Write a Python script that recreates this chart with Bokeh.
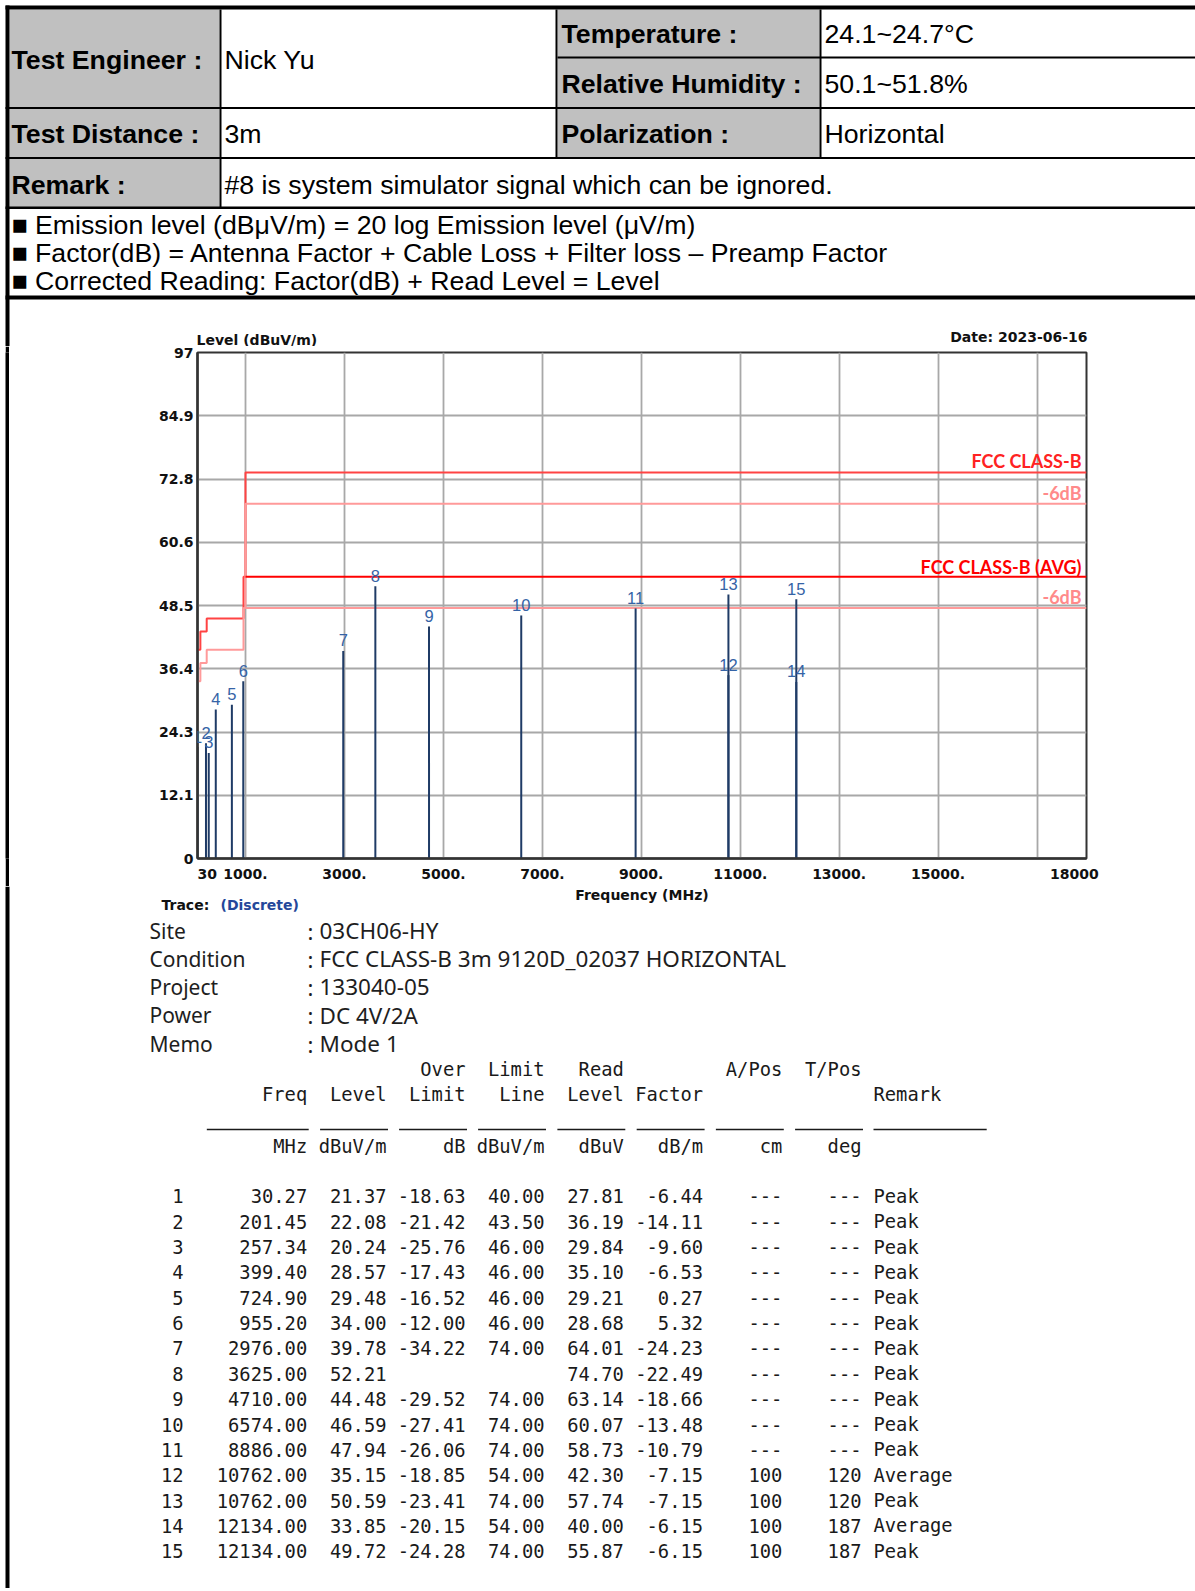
from bokeh.plotting import figure
from bokeh.models import Range1d, FixedTicker, Label, LabelSet, ColumnDataSource, Spacer
from bokeh.layouts import column, row
from bokeh.core.properties import value
from bokeh.embed import file_html
from bokeh.resources import INLINE

# ---------------- data ----------------
marker_no = [str(i) for i in range(1, 16)]
freq_mhz = [30.27, 201.45, 257.34, 399.40, 724.90, 955.20, 2976.00, 3625.00,
            4710.00, 6574.00, 8886.00, 10762.00, 10762.00, 12134.00, 12134.00]
level_dbuv = [21.37, 22.08, 20.24, 28.57, 29.48, 34.00, 39.78, 52.21,
              44.48, 46.59, 47.94, 35.15, 50.59, 33.85, 49.72]
over_limit = [-18.63, -21.42, -25.76, -17.43, -16.52, -12.00, -34.22, None,
              -29.52, -27.41, -26.06, -18.85, -23.41, -20.15, -24.28]
limit_line = [40.00, 43.50, 46.00, 46.00, 46.00, 46.00, 74.00, None,
              74.00, 74.00, 74.00, 54.00, 74.00, 54.00, 74.00]
read_level = [27.81, 36.19, 29.84, 35.10, 29.21, 28.68, 64.01, 74.70,
              63.14, 60.07, 58.73, 42.30, 57.74, 40.00, 55.87]
factor_db = [-6.44, -14.11, -9.60, -6.53, 0.27, 5.32, -24.23, -22.49,
             -18.66, -13.48, -10.79, -7.15, -7.15, -6.15, -6.15]
a_pos = ["---"] * 11 + ["100", "100", "100", "100"]
t_pos = ["---"] * 11 + ["120", "120", "187", "187"]
remark = ["Peak"] * 11 + ["Average", "Peak", "Average", "Peak"]

limit_freq = [30, 88, 216, 960, 1000, 18000]
limit_peak = [40, 43.5, 46, 54, 74, 74]
avg_freq = [1000, 18000]
avg_limit = [54, 54]
margin_db = 6

NB = "\u00a0"
x_grid_vals = [1000, 3000, 5000, 7000, 9000, 11000, 13000, 15000, 17000]
x_tick_vals = [30, 1000, 3000, 5000, 7000, 9000, 11000, 13000, 15000, 18000]
x_tick_text = [NB * 4 + "30", "1000.", "3000.", "5000.", "7000.", "9000.", "11000.",
               "13000.", "15000.", "18000" + NB * 5]
x_start, x_end = 30, 18000
y_tick_vals = [0, 12.125, 24.25, 36.375, 48.5, 60.625, 72.75, 84.875, 97]
y_tick_text = ["0", "12.1", "24.3", "36.4", "48.5", "60.6", "72.8", "84.9", "97"]

hdr_labels = ["Test Engineer :", "Temperature :", "Relative Humidity :",
              "Test Distance :", "Polarization :", "Remark :"]
hdr_values = ["Nick Yu", "24.1~24.7°C", "50.1~51.8%", "3m", "Horizontal",
              "#8 is system simulator signal which can be ignored."]
bullets = ["■ Emission level (dBμV/m) = 20 log Emission level (μV/m)",
           "■ Factor(dB) = Antenna Factor + Cable Loss + Filter loss – Preamp Factor",
           "■ Corrected Reading: Factor(dB) + Read Level = Level"]
chart_title = "Level (dBuV/m)"
chart_date = "Date: 2023-06-16"
x_title = "Frequency (MHz)"
info_keys = ["Site", "Condition", "Project", "Power", "Memo"]
info_vals = ["03CH06-HY", "FCC CLASS-B 3m 9120D_02037 HORIZONTAL", "133040-05",
             "DC 4V/2A", "Mode 1"]
col_head1 = ["", "", "", "Over", "Limit", "Read", "", "A/Pos", "T/Pos"]
col_head2 = ["", "Freq", "Level", "Limit", "Line", "Level", "Factor", "", ""]
col_units = ["", "MHz", "dBuV/m", "dB", "dBuV/m", "dBuV", "dB/m", "cm", "deg"]

PAGE_W = 1195
TOP_H, CHART_H, BOT_H = 346, 540, 702
ARIAL = value("Liberation Sans")
MONO = value("DejaVu Sans Mono")
DJV = value("DejaVu Sans")
CHART_FS = "14px"


def canvas_fig(w, h, x0, x1, ytop, ybot):
    f = figure(width=w, height=h, x_range=Range1d(x0, x1), y_range=Range1d(ybot, ytop),
               output_backend="svg", toolbar_location=None, min_border=0,
               x_axis_type=None, y_axis_type=None)
    f.grid.visible = False
    f.outline_line_color = None
    f.background_fill_color = "white"
    f.border_fill_color = "white"
    return f


# ---------------- header (page y 0..346) ----------------
hdr = canvas_fig(PAGE_W, TOP_H, 0, PAGE_W, 0, TOP_H)
hdr.quad(left=[9, 557], right=[219, 819], top=[9, 9], bottom=[206.5, 156.5],
         fill_color="#C0C0C0", line_color=None)
bl = [5, 5, 557, 5, 5, 5, 5, 219, 555, 819]
br = [PAGE_W, 9, PAGE_W, PAGE_W, PAGE_W, PAGE_W, PAGE_W, 221, 557, 821]
bt = [5, 5, 56, 106.5, 156.5, 206, 295, 9, 9, 9]
bb = [9, TOP_H, 58, 108.5, 158.5, 208.5, 299, 207, 157, 157]
hdr.quad(left=bl, right=br, top=bt, bottom=bb, fill_color="black", line_color=None)
lab_x = [11, 561, 561, 11, 561, 11]
val_x = [224, 824, 824, 224, 824, 224]
row_y = [59, 33.5, 83.7, 133.4, 133.4, 184]
hdr.text(x=lab_x, y=row_y, text=hdr_labels, text_font=ARIAL, text_font_size="26.7px",
         text_font_style="bold", text_baseline="middle", text_color="black")
hdr.text(x=val_x, y=row_y, text=hdr_values, text_font=ARIAL, text_font_size="26.7px",
         text_baseline="middle", text_color="black")
hdr.text(x=[11, 11, 11], y=[224, 252.3, 280.8], text=bullets, text_font=ARIAL,
         text_font_size="26.7px", text_baseline="middle", text_color="black")
hdr.text(x=[196], y=[339], text=[chart_title], text_font=DJV, text_font_size=CHART_FS,
         text_font_style="bold", text_baseline="middle", text_color="#111111")
hdr.text(x=[1087], y=[336.5], text=[chart_date], text_font=DJV, text_font_size=CHART_FS,
         text_font_style="bold", text_baseline="middle", text_align="right",
         text_color="#111111")

# ---------------- chart (page y 346..886) ----------------
gap = Spacer(width=5, height=CHART_H)
strip = figure(width=4, height=CHART_H, output_backend="svg", toolbar_location=None,
               min_border=0, x_axis_type=None, y_axis_type=None)
strip.outline_line_color = None
strip.background_fill_color = "black"
strip.border_fill_color = "black"
strip.grid.visible = False

p = figure(width=PAGE_W - 9, height=CHART_H, x_range=Range1d(x_start, x_end),
           y_range=Range1d(0, 97), output_backend="svg", toolbar_location=None,
           min_border_left=188, min_border_right=109, min_border_top=6, min_border_bottom=28)
p.background_fill_color = "white"
p.border_fill_color = "white"
p.outline_line_color = "#333333"
p.outline_line_width = 2

p.xaxis.ticker = FixedTicker(ticks=x_tick_vals)
p.xaxis.major_label_overrides = {v: t for v, t in zip(x_tick_vals, x_tick_text)}
p.yaxis.ticker = FixedTicker(ticks=y_tick_vals)
p.yaxis.major_label_overrides = {v: t for v, t in zip(y_tick_vals, y_tick_text)}
p.xgrid.ticker = FixedTicker(ticks=x_grid_vals)
p.ygrid.ticker = FixedTicker(ticks=y_tick_vals)
p.grid.grid_line_color = "#A8A8A8"
p.grid.grid_line_width = 1.8
for ax in (p.xaxis, p.yaxis):
    ax.axis_line_color = "#333333"
    ax.axis_line_width = 2.5
    ax.major_tick_line_color = None
    ax.minor_tick_line_color = None
    ax.major_tick_out = 0
    ax.major_tick_in = 0
    ax.major_label_text_font = "DejaVu Sans"
    ax.major_label_text_font_style = "bold"
    ax.major_label_text_font_size = CHART_FS
    ax.major_label_text_color = "#111111"
p.xaxis.major_label_standoff = 7
p.yaxis.major_label_standoff = 4

# limit lines
p.step(limit_freq, limit_peak, mode="after", line_color="#FF4343", line_width=2)
p.step(limit_freq, [v - margin_db for v in limit_peak], mode="after",
       line_color="#FF9A9A", line_width=2)
p.line(avg_freq, avg_limit, line_color="#FF0000", line_width=2)
p.line(avg_freq, [v - margin_db for v in avg_limit], line_color="#FF9A9A", line_width=2)

# markers
src = ColumnDataSource(dict(freq=freq_mhz, level=level_dbuv, no=marker_no))
p.segment(x0="freq", y0=0, x1="freq", y1="level", source=src,
          line_color="#1F3B66", line_width=2)
p.add_layout(LabelSet(x="freq", y="level", text="no", source=src, text_align="center",
                      text_baseline="middle", y_offset=10.5, text_font=ARIAL,
                      text_font_size="16.5px", text_color="#3563A6"))


def lab(**kw):
    p.add_layout(Label(**kw))


LATO = "Lato"
lab(x=x_end, y=limit_peak[-1], text="FCC CLASS-B", text_align="right",
    text_baseline="middle", x_offset=-5, y_offset=11.3, text_font=LATO,
    text_font_style="bold", text_font_size="18px", text_color="#FF2222")
lab(x=x_end, y=limit_peak[-1] - margin_db, text="-6dB", text_align="right",
    text_baseline="middle", x_offset=-5, y_offset=10.6, text_font=LATO,
    text_font_style="bold", text_font_size="18px", text_color="#FF8A8A")
lab(x=x_end, y=avg_limit[-1], text="FCC CLASS-B (AVG)", text_align="right",
    text_baseline="middle", x_offset=-5, y_offset=10.3, text_font=LATO,
    text_font_style="bold", text_font_size="18px", text_color="#FF0000")
lab(x=x_end, y=avg_limit[-1] - margin_db, text="-6dB", text_align="right",
    text_baseline="middle", x_offset=-5, y_offset=10.9, text_font=LATO,
    text_font_style="bold", text_font_size="18px", text_color="#FF8A8A")

# ---------------- bottom (page y 886..1588) ----------------
Y0 = TOP_H + CHART_H
bot = canvas_fig(PAGE_W, BOT_H, 0, PAGE_W, Y0, Y0 + BOT_H)
bot.quad(left=[5], right=[9], top=[Y0], bottom=[Y0 + BOT_H], fill_color="black",
         line_color=None)
bot.text(x=[641.5], y=[894], text=[x_title], text_font=DJV, text_font_size=CHART_FS,
         text_font_style="bold", text_baseline="middle", text_align="center",
         text_color="#111111")
bot.text(x=[161], y=[904.5], text=["Trace:"], text_font=DJV, text_font_size=CHART_FS,
         text_font_style="bold", text_baseline="middle", text_color="#111111")
bot.text(x=[220], y=[904.5], text=["(Discrete)"], text_font=DJV, text_font_size=CHART_FS,
         text_font_style="bold", text_baseline="middle", text_color="#24479A")

NOTO = value("Noto Sans")
info_y = [930, 958, 986.5, 1014.8, 1043]
bot.text(x=[149] * 5, y=info_y, text=info_keys, text_font=NOTO, text_font_size="21px",
         text_baseline="middle", text_color="#1E1E1E")
bot.text(x=[307] * 5, y=info_y, text=[":"] * 5, text_font=NOTO, text_font_size="22px",
         text_baseline="middle", text_color="#1E1E1E")
bot.text(x=[319] * 5, y=info_y, text=info_vals, text_font=NOTO, text_font_size="22.5px",
         text_baseline="middle", text_color="#1E1E1E")

col_right = [183, 306.7, 386, 465, 544, 623.3, 702.6, 781.8, 861]
remark_x = 873
CH = 11.32
MFS = "18.8px"


def mono(xs, ys, ts, align="right"):
    bot.text(x=xs, y=ys, text=ts, text_font=MONO, text_font_size=MFS,
             text_baseline="middle", text_align=align, text_color="#1A1A1A")


mono(col_right, [1068.7] * 9, col_head1)
mono(col_right, [1094] * 9, col_head2)
mono([remark_x], [1094], ["Remark"], "left")
mono(col_right, [1145.5] * 9, col_units)
ul_chars = [9, 6, 6, 6, 6, 6, 6, 6]
bot.segment(x0=[col_right[i + 1] + 1.5 - ul_chars[i] * CH for i in range(8)] + [remark_x],
            y0=[1129] * 9,
            x1=[col_right[i + 1] + 1.5 for i in range(8)] + [remark_x + 10 * CH],
            y1=[1129] * 9, line_color="#1A1A1A", line_width=1.5)


def f2(v):
    return "" if v is None else f"{v:.2f}"


row_y0, row_dy = 1195.8, 25.36
for i in range(len(marker_no)):
    y = row_y0 + row_dy * i
    cells = [marker_no[i], f2(freq_mhz[i]), f2(level_dbuv[i]), f2(over_limit[i]),
             f2(limit_line[i]), f2(read_level[i]), f2(factor_db[i]), a_pos[i], t_pos[i]]
    mono(col_right, [y] * 9, cells)
    mono([remark_x], [y], [remark[i]], "left")

layout = column(hdr, row(gap, strip, p), bot)
open("out.html", "w").write(file_html(layout, INLINE))
